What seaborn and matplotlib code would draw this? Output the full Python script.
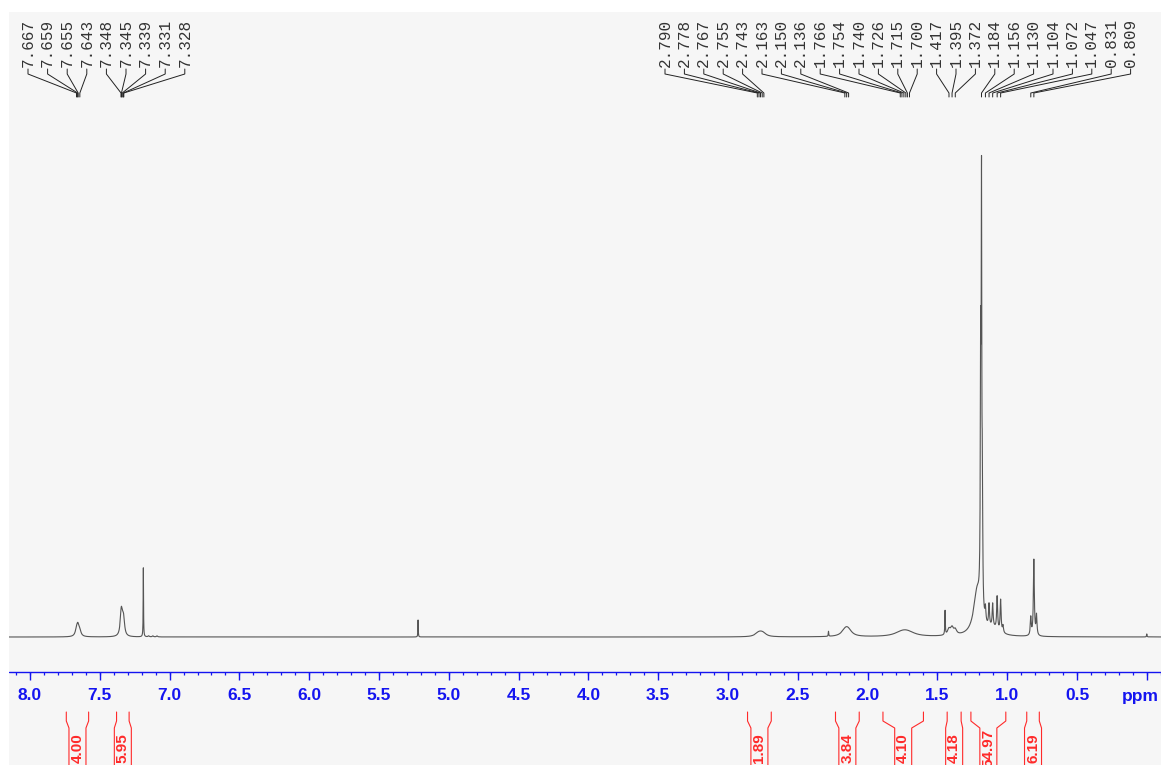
import numpy as np
import pandas as pd
import matplotlib.pyplot as plt
import seaborn as sns

# Peak table: shift (ppm), height (px above baseline), half width (ppm)
peak_ppm = [7.667, 7.659, 7.655, 7.643,
            7.348, 7.345, 7.339, 7.331, 7.328,
            7.188, 7.15, 7.12, 7.09,
            5.22,
            2.790, 2.778, 2.767, 2.755, 2.743,
            2.28,
            2.163, 2.150, 2.136,
            1.766, 1.754, 1.740, 1.726, 1.715, 1.700,
            1.445, 1.417, 1.395, 1.372,
            1.215, 1.190, 1.184, 1.178,
            1.10, 1.156, 1.130, 1.104, 1.072, 1.047, 1.030,
            0.831, 0.809, 0.790,
            0.0]
peak_height = [5.0, 5.5, 5.5, 4.5,
               12, 11, 9, 8, 8,
               69, 1, 1, 1,
               17,
               1.6, 1.6, 1.6, 1.6, 1.6,
               5,
               3.8, 3.8, 3.8,
               1.3, 1.3, 1.3, 1.3, 1.3, 1.3,
               24, 6, 7, 5,
               44, 250, 384, 120,
               6, 14, 22, 23, 33, 32, 7,
               18, 76, 20,
               3]
peak_hw = [0.010, 0.010, 0.010, 0.010,
           0.008, 0.008, 0.008, 0.008, 0.008,
           0.0015, 0.005, 0.005, 0.005,
           0.0015,
           0.025, 0.025, 0.025, 0.025, 0.025,
           0.002,
           0.03, 0.03, 0.03,
           0.06, 0.06, 0.06, 0.06, 0.06, 0.06,
           0.002, 0.012, 0.012, 0.012,
           0.03, 0.003, 0.0022, 0.003,
           0.05, 0.004, 0.004, 0.004, 0.004, 0.004, 0.004,
           0.004, 0.004, 0.004,
           0.002]

# peak pick labels
labels_left = ['7.667', '7.659', '7.655', '7.643', '7.348', '7.345', '7.339', '7.331', '7.328']
labels_right = ['2.790', '2.778', '2.767', '2.755', '2.743', '2.163', '2.150', '2.136',
                '1.766', '1.754', '1.740', '1.726', '1.715', '1.700', '1.417', '1.395',
                '1.372', '1.184', '1.156', '1.130', '1.104', '1.072', '1.047', '0.831', '0.809']

# integral regions
integ_from = [7.74, 7.38, 2.86, 2.23, 1.89, 1.43, 1.26, 0.86]
integ_to = [7.58, 7.29, 2.69, 2.06, 1.60, 1.33, 1.01, 0.77]
integ_val = ['4.00', '5.95', '1.89', '3.84', '4.10', '4.18', '54.97', '6.19']

major_ticks = [8.0, 7.5, 7.0, 6.5, 6.0, 5.5, 5.0, 4.5, 4.0, 3.5, 3.0, 2.5, 2.0, 1.5, 1.0, 0.5, 0.0]
major_labels = ['8.0', '7.5', '7.0', '6.5', '6.0', '5.5', '5.0', '4.5', '4.0', '3.5',
                '3.0', '2.5', '2.0', '1.5', '1.0', '0.5', '']

# pixel <-> data helpers (layout only)
PX_PER_PPM = 139.6
def px2ppm(px):
    return 8.0 - (px - 30) / PX_PER_PPM
def py2y(py):
    return 765 - py

BASE = py2y(637)

# build the spectrum as a sum of Lorentzian lines
x = np.arange(-0.1, 8.16, 0.0005)
y = np.zeros_like(x)
for p, h, w in zip(peak_ppm, peak_height, peak_hw):
    y += h * w**2 / (w**2 + (x - p)**2)
spec = pd.DataFrame({'ppm': x, 'y': BASE + y})

sns.set_theme(style='white')
plt.rcParams['font.family'] = ['DejaVu Sans']

fig = plt.figure(figsize=(11.61, 7.65), dpi=100, facecolor='white')
ax = fig.add_axes([9 / 1161, 0, 1152 / 1161, 753 / 765])
ax.set_facecolor('#f6f6f6')

sns.lineplot(data=spec, x='ppm', y='y', ax=ax, color='#555555', linewidth=0.8,
             estimator=None, sort=False, errorbar=None)

ax.set_xlim(px2ppm(9), px2ppm(1161))
ax.set_ylim(0, 753)
ax.set_xlabel('')
ax.set_ylabel('')
ax.set_xticks([])
ax.set_yticks([])
for s in ax.spines.values():
    s.set_visible(False)

# ppm ruler
blue = '#1414f0'
ax.plot([px2ppm(9), px2ppm(1161)], [py2y(672)] * 2, color=blue, lw=1.0)
minor = np.round(np.arange(-0.1, 8.11, 0.1), 1)
ax.vlines(minor, py2y(675), py2y(672), color=blue, lw=0.9)
ax.vlines(major_ticks, py2y(680), py2y(672), color=blue, lw=1.0)
tick_font = dict(family=['Liberation Sans Narrow', 'Liberation Sans', 'DejaVu Sans'],
                 fontweight='bold', fontsize=12.5, color=blue)
for t, lab in zip(major_ticks, major_labels):
    ax.text(t, py2y(696), lab, ha='center', va='center', **tick_font)
ax.text(px2ppm(1140), py2y(701), 'ppm', ha='center', va='baseline', **tick_font)

# peak labels with leader lines
mono = ['Liberation Mono', 'DejaVu Sans Mono']
def draw_labels(labels, start_px, step_px):
    for i, lab in enumerate(labels):
        lx = px2ppm(start_px + i * step_px)
        p = float(lab)
        ax.plot([lx, lx, p, p], [py2y(69), py2y(74), py2y(93), py2y(97)],
                color='#222222', lw=0.7, clip_on=False)
        ax.text(lx, py2y(67), lab, rotation=90, ha='center', va='bottom',
                family=mono, fontsize=11.5, color='#333333')

draw_labels(labels_left, 28, 19.6)
draw_labels(labels_right, 665, 19.4)

# integrals
red = '#ff2a2a'
inner = 8.5 / PX_PER_PPM
for a, b, v in zip(integ_from, integ_to, integ_val):
    c = (a + b) / 2
    ax.plot([a, a, c + inner, c + inner], [py2y(712), py2y(721), py2y(728), 0],
            color=red, lw=0.8)
    ax.plot([b, b, c - inner, c - inner], [py2y(712), py2y(721), py2y(728), 0],
            color=red, lw=0.8)
    ax.text(c, py2y(748), v, rotation=90, ha='center', va='center', color=red,
            family=['Liberation Sans Narrow', 'Liberation Sans', 'DejaVu Sans'],
            fontweight='bold', fontsize=11)

fig.savefig('out.png', dpi=100, facecolor='white')
